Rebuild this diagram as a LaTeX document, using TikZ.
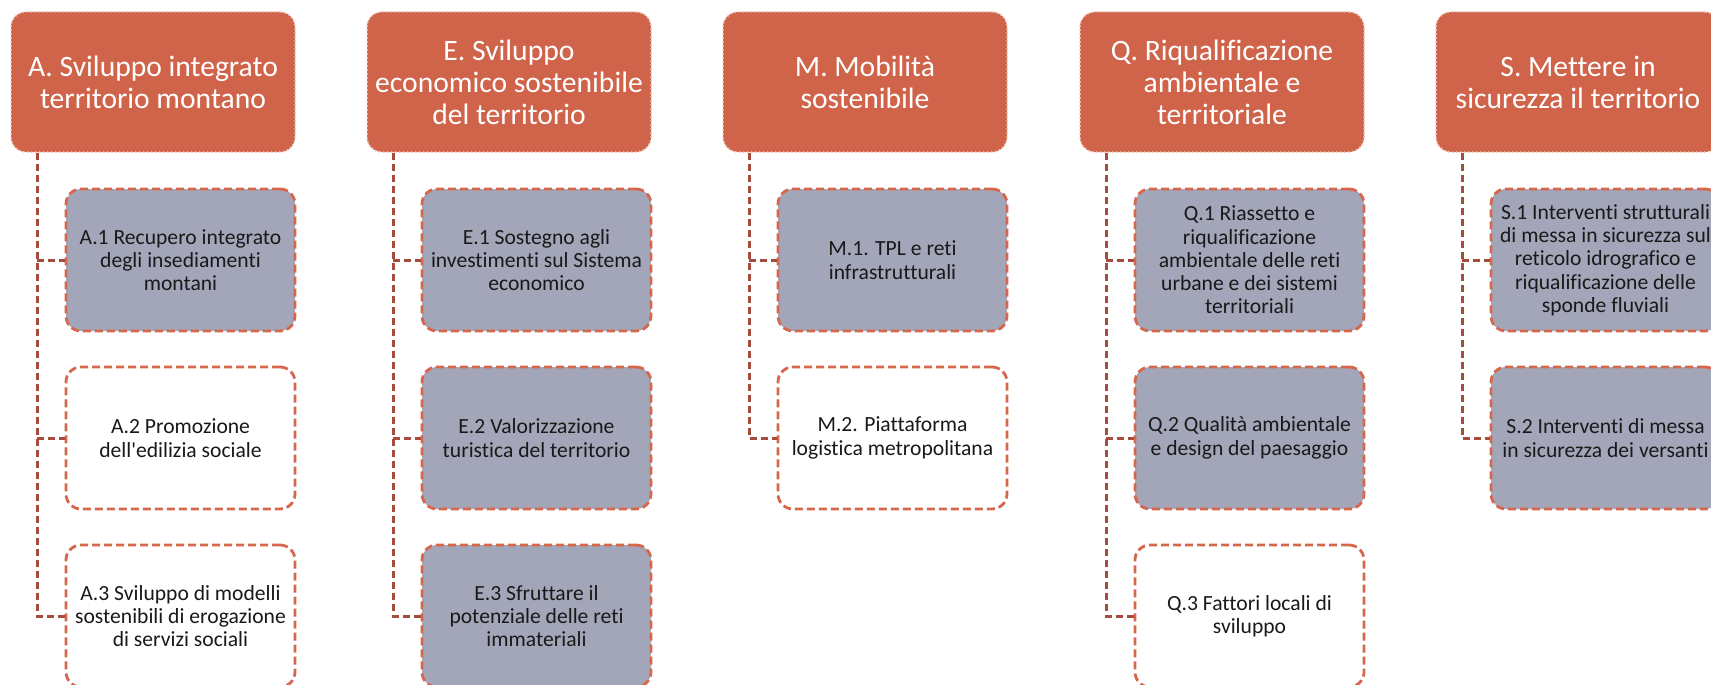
\documentclass[tikz,border=0pt]{standalone}
\usepackage{fontspec}
\setmainfont{Carlito}[Ligatures=NoCommon,RawFeature={-liga;-clig;-dlig}]
\definecolor{hdr}{RGB}{208,100,74}
\definecolor{hdrline}{RGB}{242,196,182}
\definecolor{cfill}{RGB}{163,166,184}
\definecolor{cline}{RGB}{214,102,76}
\definecolor{connc}{RGB}{165,76,60}
\begin{document}
\begin{tikzpicture}[x=1pt,y=-1pt,
 hdrbox/.style={draw=hdrline, line width=1.5pt, dash pattern=on 1.5pt off 2.5pt, fill=hdr, rounded corners=15pt, minimum width=284pt, minimum height=140pt, inner sep=0pt, text=white, align=center, font=\fontsize{29.6}{32}\selectfont},
 subbox/.style={draw=cline, line width=2.8pt, dash pattern=on 8pt off 4pt, rounded corners=15pt, minimum width=229pt, minimum height=142pt, inner sep=0pt, align=center, text=black!90, font=\fontsize{21.6}{23.3}\selectfont},
 greybox/.style={subbox, fill=cfill},
 whitebox/.style={subbox, fill=white},
 connline/.style={draw=connc, line width=3pt, dash pattern=on 7pt off 4pt}]
\clip (0,0) rectangle (1711,685);
\fill[white] (0,0) rectangle (1711,685);

% headers
\node[hdrbox] (hA) at (153,82) {A. Sviluppo integrato\\territorio montano};
\node[hdrbox] (hE) at (509,82) {E. Sviluppo\\economico sostenibile\\del territorio};
\node[hdrbox] (hM) at (865,82) {M. Mobilità\\sostenibile};
\node[hdrbox] (hQ) at (1222,82) {Q. Riqualificazione\\ambientale e\\territoriale};
\node[hdrbox] (hS) at (1578,82) {S. Mettere in\\sicurezza il territorio};

% children
\node[greybox] (a1) at (180.5,260) {A.1 Recupero integrato\\degli insediamenti\\montani};
\node[whitebox] (a2) at (180.5,438) {A.2 Promozione\\dell\textquotesingle edilizia sociale};
\node[whitebox] (a3) at (180.5,616) {A.3 Sviluppo di modelli\\sostenibili di erogazione\\di servizi sociali};

\node[greybox] (e1) at (536.5,260) {E.1 Sostegno agli\\investimenti sul Sistema\\economico};
\node[greybox] (e2) at (536.5,438) {E.2 Valorizzazione\\turistica del territorio};
\node[greybox] (e3) at (536.5,616) {E.3 Sfruttare il\\potenziale delle reti\\immateriali};

\node[greybox] (m1) at (892.5,260) {M.1. TPL e reti\\infrastrutturali};
\node[whitebox] (m2) at (892.5,438) {M.2. Piattaforma\\logistica metropolitana};

\node[greybox] (q1) at (1249.5,260) {Q.1 Riassetto e\\riqualificazione\\ambientale delle reti\\urbane e dei sistemi\\territoriali};
\node[greybox] (q2) at (1249.5,438) {Q.2 Qualità ambientale\\e design del paesaggio};
\node[whitebox] (q3) at (1249.5,616) {Q.3 Fattori locali di\\sviluppo};

\node[greybox] (s1) at (1605.5,260) {S.1 Interventi strutturali\\di messa in sicurezza sul\\reticolo idrografico e\\riqualificazione delle\\sponde fluviali};
\node[greybox] (s2) at (1605.5,438) {S.2 Interventi di messa\\in sicurezza dei versanti};

% trunk coordinates
\coordinate (tA) at ([xshift=27pt]hA.south west);
\coordinate (tE) at ([xshift=27pt]hE.south west);
\coordinate (tM) at ([xshift=27pt]hM.south west);
\coordinate (tQ) at ([xshift=27pt]hQ.south west);
\coordinate (tS) at ([xshift=27pt]hS.south west);

% connectors
\draw[connline] (tA) |- (a3.west);
\draw[connline] (tA |- a1.west) -- (a1.west);
\draw[connline] (tA |- a2.west) -- (a2.west);

\draw[connline] (tE) |- (e3.west);
\draw[connline] (tE |- e1.west) -- (e1.west);
\draw[connline] (tE |- e2.west) -- (e2.west);

\draw[connline] (tM) |- (m2.west);
\draw[connline] (tM |- m1.west) -- (m1.west);

\draw[connline] (tQ) |- (q3.west);
\draw[connline] (tQ |- q1.west) -- (q1.west);
\draw[connline] (tQ |- q2.west) -- (q2.west);

\draw[connline] (tS) |- (s2.west);
\draw[connline] (tS |- s1.west) -- (s1.west);
\end{tikzpicture}
\end{document}
